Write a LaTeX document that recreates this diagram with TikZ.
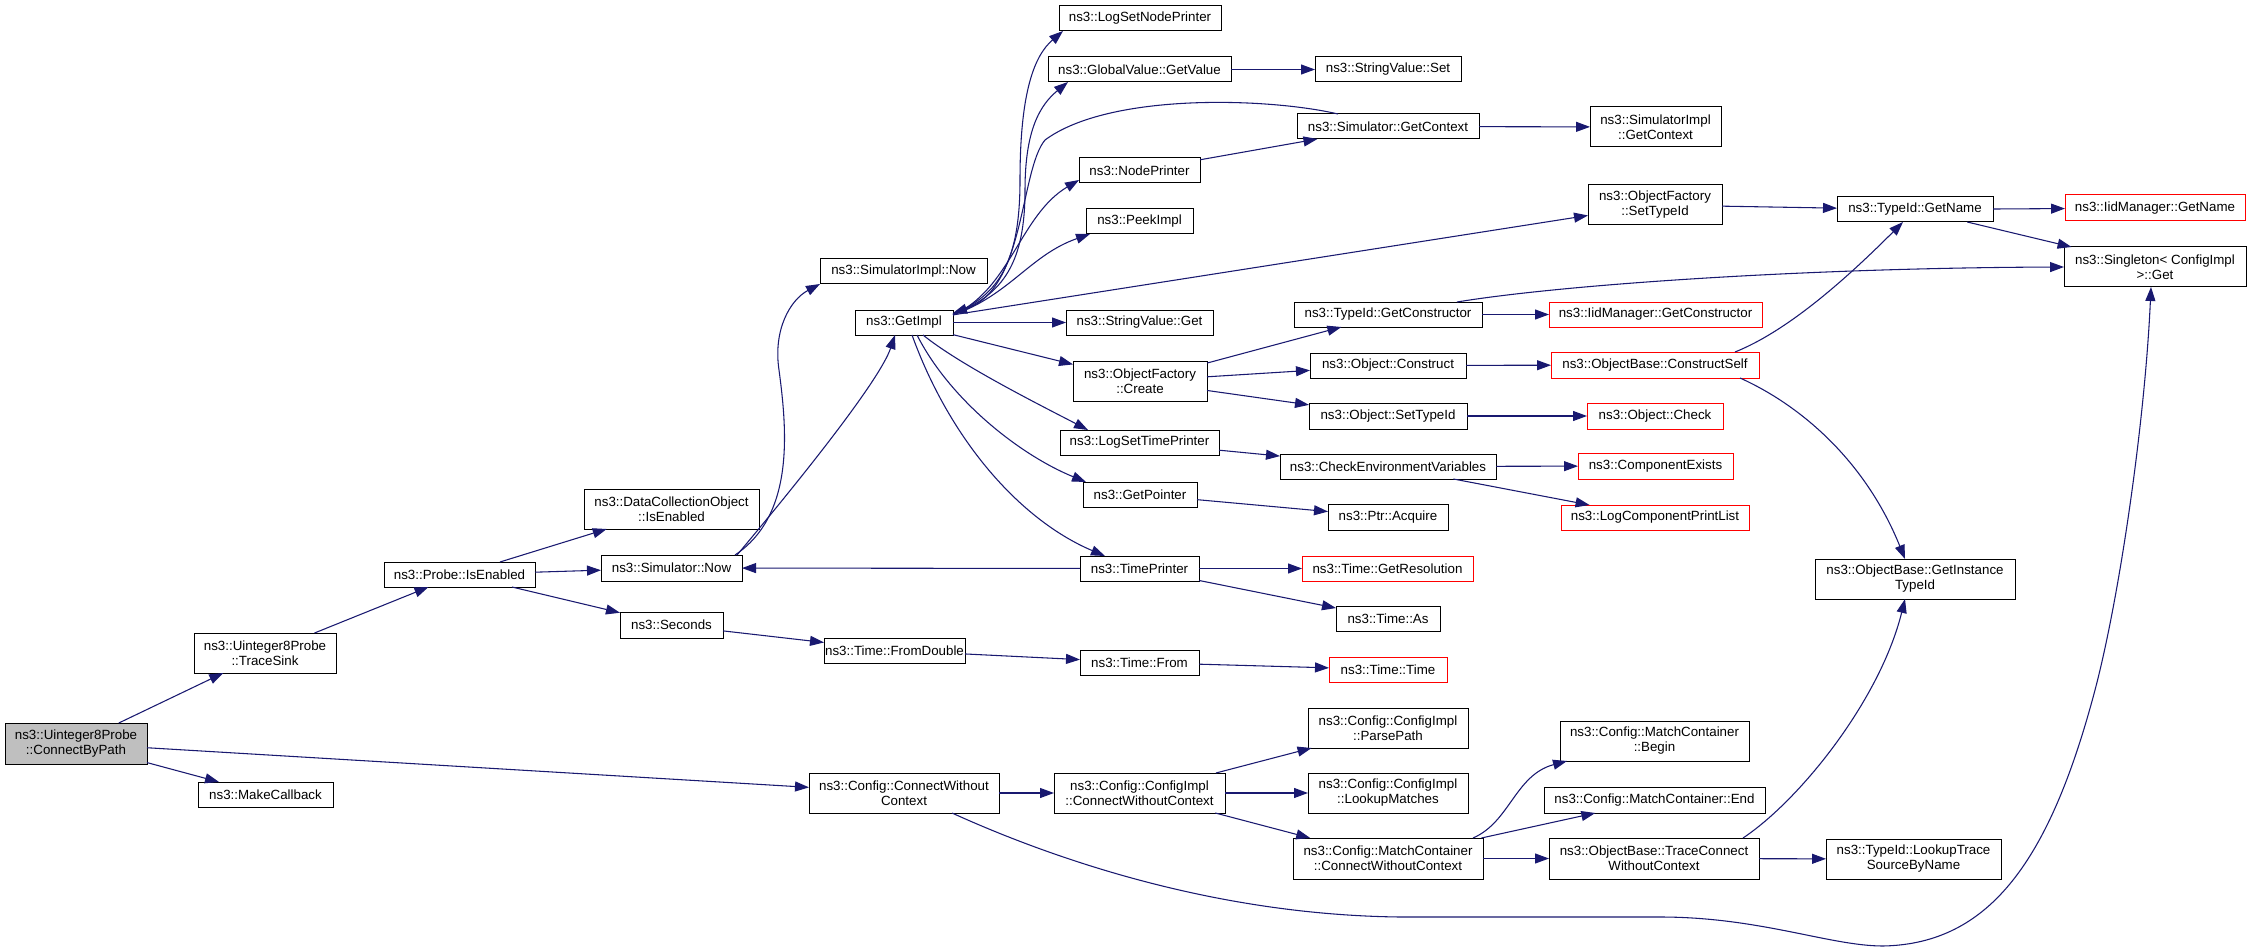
\documentclass[tikz,border=0pt]{standalone}
\usepackage{fontspec}
\setmainfont{Liberation Sans}
\usetikzlibrary{arrows.meta}
\definecolor{edgec}{HTML}{191970}
\definecolor{nodegray}{HTML}{BFBFBF}
\newcommand\gnode[7][box]{\node[#1, minimum width={(#5-#3)*0.75pt}, minimum height={(#6-#4)*0.75pt}] (#2) at ({(#3+#5)/2},{(#4+#6)/2}) {#7};}
\begin{document}
\begin{tikzpicture}[x=0.75pt,y=-0.75pt,
  box/.style={draw=black, line width=0.75pt, fill=white, inner sep=0pt, outer sep=0pt, align=center, font=\fontsize{10}{11.25}\selectfont},
  rbox/.style={box, draw=red},
  gbox/.style={box, fill=nodegray},
  calln/.style={draw=edgec, line width=0.8pt, -{Triangle[length=10.5pt,width=7.5pt]}}]
\useasboundingbox[fill=white] (0,0) rectangle (2248,952);
% nodes
\gnode[gbox]{cbp}{5}{723}{147}{764}{ns3::Uinteger8Probe\\::ConnectByPath}
\gnode{ts}{194}{633}{336}{673}{ns3::Uinteger8Probe\\::TraceSink}
\gnode{mkcb}{198}{782}{333}{807}{ns3::MakeCallback}
\gnode{pie}{384}{562}{535}{587}{ns3::Probe::IsEnabled}
\gnode{dco}{584}{489}{759}{529}{ns3::DataCollectionObject\\::IsEnabled}
\gnode{snow}{601}{555}{742}{581}{ns3::Simulator::Now}
\gnode{sec}{620}{612}{723}{638}{ns3::Seconds}
\gnode{tfd}{824}{638}{965}{663}{ns3::Time::FromDouble}
\gnode{simplnow}{820}{259}{987}{284}{ns3::SimulatorImpl::Now}
\gnode{getimpl}{855}{310}{953}{335}{ns3::GetImpl}
\gnode{lsnp}{1059}{6}{1221}{31}{ns3::LogSetNodePrinter}
\gnode{gvgv}{1048}{57}{1231}{82}{ns3::GlobalValue::GetValue}
\gnode{np}{1079}{158}{1200}{183}{ns3::NodePrinter}
\gnode{peek}{1086}{209}{1193}{234}{ns3::PeekImpl}
\gnode{svget}{1066}{310}{1213}{335}{ns3::StringValue::Get}
\gnode{ofc}{1073}{361}{1207}{401}{ns3::ObjectFactory\\::Create}
\gnode{lstp}{1060}{430}{1219}{455}{ns3::LogSetTimePrinter}
\gnode{gp}{1083}{482}{1197}{507}{ns3::GetPointer}
\gnode{tp}{1080}{556}{1199}{581}{ns3::TimePrinter}
\gnode{tfrom}{1080}{650}{1199}{675}{ns3::Time::From}
\gnode{svset}{1315}{57}{1461}{82}{ns3::StringValue::Set}
\gnode{sgc}{1297}{114}{1479}{139}{ns3::Simulator::GetContext}
\gnode{sigc}{1590}{107}{1721}{147}{ns3::SimulatorImpl\\::GetContext}
\gnode{ofst}{1588}{185}{1722}{225}{ns3::ObjectFactory\\::SetTypeId}
\gnode{tgc}{1294}{302}{1482}{327}{ns3::TypeId::GetConstructor}
\gnode{oc}{1310}{353}{1466}{378}{ns3::Object::Construct}
\gnode{ost}{1309}{403}{1467}{429}{ns3::Object::SetTypeId}
\gnode{cev}{1280}{454}{1496}{479}{ns3::CheckEnvironmentVariables}
\gnode{pa}{1328}{504}{1448}{530}{ns3::Ptr::Acquire}
\gnode[rbox]{tgr}{1302}{556}{1473}{581}{ns3::Time::GetResolution}
\gnode{tas}{1336}{606}{1440}{631}{ns3::Time::As}
\gnode[rbox]{tt}{1329}{657}{1447}{682}{ns3::Time::Time}
\gnode{tgn}{1837}{197}{1993}{222}{ns3::TypeId::GetName}
\gnode[rbox]{igm}{2065}{195}{2245}{221}{ns3::IidManager::GetName}
\gnode{sg}{2064}{247}{2246}{287}{ns3::Singleton< ConfigImpl\\ >::Get}
\gnode[rbox]{igc}{1549}{302}{1762}{327}{ns3::IidManager::GetConstructor}
\gnode[rbox]{ocs}{1551}{352}{1759}{378}{ns3::ObjectBase::ConstructSelf}
\gnode[rbox]{ochk}{1587}{403}{1723}{429}{ns3::Object::Check}
\gnode[rbox]{ce}{1578}{453}{1733}{479}{ns3::ComponentExists}
\gnode[rbox]{lcpl}{1561}{505}{1749}{530}{ns3::LogComponentPrintList}
\gnode{git}{1815}{559}{2015}{599}{ns3::ObjectBase::GetInstance\\TypeId}
\gnode{ccwc}{809}{773}{999}{813}{ns3::Config::ConnectWithout\\Context}
\gnode{cicwc}{1054}{773}{1225}{813}{ns3::Config::ConfigImpl\\::ConnectWithoutContext}
\gnode{pp}{1308}{708}{1468}{748}{ns3::Config::ConfigImpl\\::ParsePath}
\gnode{lm}{1308}{773}{1468}{813}{ns3::Config::ConfigImpl\\::LookupMatches}
\gnode{mccwc}{1293}{838}{1483}{879}{ns3::Config::MatchContainer\\::ConnectWithoutContext}
\gnode{mcbegin}{1560}{721}{1749}{761}{ns3::Config::MatchContainer\\::Begin}
\gnode{mce}{1544}{787}{1765}{813}{ns3::Config::MatchContainer::End}
\gnode{tcwc}{1549}{838}{1759}{879}{ns3::ObjectBase::TraceConnect\\WithoutContext}
\gnode{ltsbn}{1826}{839}{2001}{879}{ns3::TypeId::LookupTrace\\SourceByName}
% straight edges
\draw[calln] (cbp) -- (ts);
\draw[calln] (cbp) -- (mkcb);
\draw[calln] (cbp) -- (ccwc);
\draw[calln] (ts) -- (pie);
\draw[calln] (pie) -- (dco);
\draw[calln] (pie) -- (snow);
\draw[calln] (pie) -- (sec);
\draw[calln] (sec) -- (tfd);
\draw[calln] (tp) -- (snow);
\draw[calln] (getimpl) -- (svget);
\draw[calln] (getimpl) -- (ofc);
\draw[calln] (getimpl) -- (ofst);
\draw[calln] (gvgv) -- (svset);
\draw[calln] (np) -- (sgc);
\draw[calln] (sgc) -- (sigc);
\draw[calln] (ofst) -- (tgn);
\draw[calln] (tgn) -- (igm);
\draw[calln] (tgn) -- (sg);
\draw[calln] (tgc) -- (igc);
\draw[calln] (ofc) -- (tgc);
\draw[calln] (ofc) -- (oc);
\draw[calln] (ofc) -- (ost);
\draw[calln] (oc) -- (ocs);
\draw[calln] (ost) -- (ochk);
\draw[calln] (lstp) -- (cev);
\draw[calln] (cev) -- (ce);
\draw[calln] (cev) -- (lcpl);
\draw[calln] (gp) -- (pa);
\draw[calln] (tp) -- (tgr);
\draw[calln] (tp) -- (tas);
\draw[calln] (tfd) -- (tfrom);
\draw[calln] (tfrom) -- (tt);
\draw[calln] (ccwc) -- (cicwc);
\draw[calln] (cicwc) -- (pp);
\draw[calln] (cicwc) -- (lm);
\draw[calln] (cicwc) -- (mccwc);
\draw[calln] (mccwc) -- (mce);
\draw[calln] (mccwc) -- (tcwc);
\draw[calln] (tcwc) -- (ltsbn);
% curved edges
\draw[calln] ([shift={(-7,0)}]snow.north east) .. controls (795,515) and (787,430) .. (779,370) .. controls (773,330) and (790,300) .. (simplnow.south west);
\draw[calln] ([shift={(-5,0)}]snow.north east) .. controls (800,480) and (880,380) .. ([shift={(-9,0)}]getimpl.south);
\draw[calln] ([shift={(0,4)}]getimpl.north east) .. controls (1000,295) and (1020,260) .. (1020,180) .. controls (1020,90) and (1035,55) .. ([shift={(4,0)}]lsnp.south west);
\draw[calln] ([shift={(0,4)}]getimpl.north east) .. controls (1005,295) and (1025,260) .. (1025,190) .. controls (1025,130) and (1040,105) .. ([shift={(20,0)}]gvgv.south west);
\draw[calln] ([shift={(0,5)}]getimpl.north east) .. controls (1010,290) and (1020,215) .. ([shift={(0,-3)}]np.south west);
\draw[calln] ([shift={(0,5)}]getimpl.north east) .. controls (1010,295) and (1030,255) .. ([shift={(4,0)}]peek.south west);
\draw[calln] ([shift={(41,0)}]sgc.north west) .. controls (1270,98) and (1110,92) .. (1045,140) .. controls (1020,170) and (1025,290) .. ([shift={(0,3)}]getimpl.north east);
\draw[calln] ([shift={(19,0)}]getimpl.south) .. controls (960,365) and (1040,405) .. ([shift={(28,0)}]lstp.north west);
\draw[calln] ([shift={(13,0)}]getimpl.south) .. controls (950,400) and (1020,455) .. ([shift={(3,0)}]gp.north west);
\draw[calln] ([shift={(8,0)}]getimpl.south) .. controls (950,440) and (1020,520) .. ([shift={(25,0)}]tp.north west);
\draw[calln] ([shift={(-25,0)}]tgc.north east) .. controls (1560,285) and (1800,268) .. (sg.west);
\draw[calln] ([shift={(-24,0)}]ocs.north east) .. controls (1790,330) and (1850,275) .. ([shift={(66,0)}]tgn.south west);
\draw[calln] ([shift={(-19,0)}]ocs.south east) .. controls (1800,405) and (1865,460) .. ([shift={(90,0)}]git.north west);
\draw[calln] ([shift={(-16,0)}]tcwc.north east) .. controls (1800,800) and (1880,700) .. ([shift={(90,0)}]git.south west);
\draw[calln] ([shift={(-10,0)}]mccwc.north east) .. controls (1510,822) and (1515,775) .. ([shift={(7,0)}]mcbegin.south west);
\draw[calln] ([shift={(-47,0)}]ccwc.south east) .. controls (1060,862) and (1220,915) .. (1400,917) -- (1660,917) .. controls (1760,917) and (1830,946) .. (1883,946) .. controls (1990,944) and (2050,860) .. (2095,690) .. controls (2120,595) and (2145,420) .. ([shift={(87,0)}]sg.south west);
\end{tikzpicture}
\end{document}
